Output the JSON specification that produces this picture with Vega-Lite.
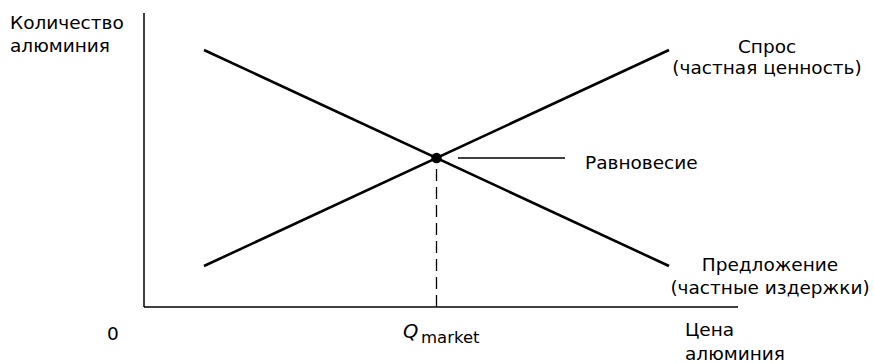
{
  "$schema": "https://vega.github.io/schema/vega-lite/v6.json",
  "width": 874,
  "height": 363,
  "padding": 0,
  "autosize": {"type": "none"},
  "background": "white",
  "config": {"view": {"stroke": null}},
  "datasets": {
    "curves": [
      {"curve": "Спрос", "x": 6, "y": 4.1},
      {"curve": "Спрос", "x": 52.5, "y": 25.7},
      {"curve": "Предложение", "x": 6, "y": 25.7},
      {"curve": "Предложение", "x": 52.5, "y": 4.1}
    ],
    "axes": [
      {"axis": "Количество", "x": 0, "y": 0, "x2": 0, "y2": 29.4},
      {"axis": "Цена", "x": 0, "y": 0, "x2": 59.4, "y2": 0}
    ],
    "qline": [{"x": 29.25, "y": 0, "y2": 14.9}],
    "leader": [{"x": 31.4, "x2": 42.1, "y": 14.9}],
    "equilibrium": [{"x": 29.25, "y": 14.9}],
    "centerLabels": [
      {"x": 62.3, "y": 25.4, "text": "Спрос"},
      {"x": 62.3, "y": 23.3, "text": "(частная ценность)"},
      {"x": 62.6, "y": 3.6, "text": "Предложение"},
      {"x": 62.6, "y": 1.3, "text": "(частные издержки)"},
      {"x": -3.1, "y": -3.3, "text": "0"}
    ],
    "leftLabels": [
      {"x": -13.4, "y": 27.8, "text": "Количество"},
      {"x": -13.4, "y": 25.5, "text": "алюминия"},
      {"x": 54.1, "y": -2.9, "text": "Цена"},
      {"x": 54.1, "y": -5.3, "text": "алюминия"},
      {"x": 44.1, "y": 13.8, "text": "Равновесие"}
    ],
    "subscript": [{"x": 27.7, "y": -3.6, "text": "market"}],
    "qLabel": [{"x": 25.9, "y": -3.1, "text": "Q"}]
  },
  "encoding": {
    "x": {"field": "x", "type": "quantitative", "scale": {"domain": [-14.4, 73], "nice": false, "zero": false}, "axis": null},
    "y": {"field": "y", "type": "quantitative", "scale": {"domain": [-5.6, 30.7], "nice": false, "zero": false}, "axis": null}
  },
  "layer": [
    {
      "data": {"name": "axes"},
      "mark": {"type": "rule", "color": "black", "strokeWidth": 1.5},
      "encoding": {"x2": {"field": "x2"}, "y2": {"field": "y2"}}
    },
    {
      "data": {"name": "curves"},
      "mark": {"type": "line", "color": "black", "strokeWidth": 2.6},
      "encoding": {"detail": {"field": "curve"}}
    },
    {
      "data": {"name": "qline"},
      "mark": {"type": "rule", "color": "black", "strokeWidth": 1.3, "strokeDash": [12, 6]},
      "encoding": {"y2": {"field": "y2"}}
    },
    {
      "data": {"name": "leader"},
      "mark": {"type": "rule", "color": "black", "strokeWidth": 1.5},
      "encoding": {"x2": {"field": "x2"}}
    },
    {
      "data": {"name": "equilibrium"},
      "mark": {"type": "point", "filled": true, "color": "black", "opacity": 1, "size": 110}
    },
    {
      "data": {"name": "centerLabels"},
      "mark": {"type": "text", "align": "center", "baseline": "alphabetic", "font": "DejaVu Sans", "fontSize": 18.5, "color": "black"},
      "encoding": {"text": {"field": "text"}}
    },
    {
      "data": {"name": "leftLabels"},
      "mark": {"type": "text", "align": "left", "baseline": "alphabetic", "font": "DejaVu Sans", "fontSize": 18.5, "color": "black"},
      "encoding": {"text": {"field": "text"}}
    },
    {
      "data": {"name": "subscript"},
      "mark": {"type": "text", "align": "left", "baseline": "alphabetic", "font": "DejaVu Sans", "fontSize": 16.5, "color": "black"},
      "encoding": {"text": {"field": "text"}}
    },
    {
      "data": {"name": "qLabel"},
      "mark": {"type": "text", "align": "left", "baseline": "alphabetic", "font": "DejaVu Sans", "fontSize": 19.5, "fontStyle": "italic", "color": "black"},
      "encoding": {"text": {"field": "text"}}
    }
  ]
}
